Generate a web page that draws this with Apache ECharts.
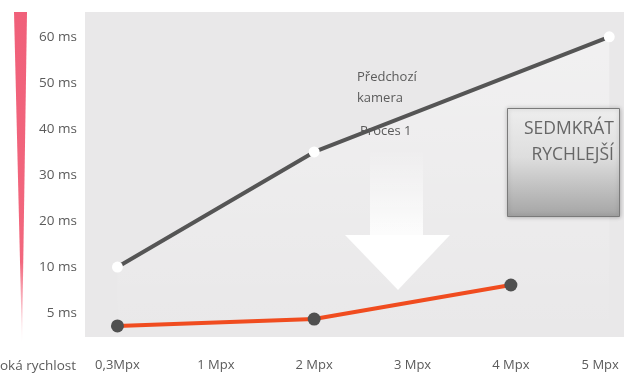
<!DOCTYPE html>
<html>
<head>
<meta charset="utf-8">
<script src="https://cdn.jsdelivr.net/npm/echarts@6/dist/echarts.min.js"></script>
<style>
  html, body { margin: 0; padding: 0; background: #fff; }
  #chart { width: 624px; height: 374px; }
</style>
</head>
<body>
<div id="chart"></div>
<script>
// kategorie na ose x (index = pozice)
var categories = ['0,3Mpx', '1 Mpx', '2 Mpx', '3 Mpx', '4 Mpx', '5 Mpx'];
// popisky osy y (hodnota -> text)
var yTickValues = [0, 10, 20, 30, 40, 50, 60];
var yTickLabels = ['5 ms', '10 ms', '20 ms', '30 ms', '40 ms', '50 ms', '60 ms'];

// predchozi kamera
var oldCamX = [0, 2, 5];
var oldCamMs = [10, 35, 60];
// proces 1
var newCamX = [0, 2, 4];
var newCamMs = [-2.8, -1.3, 6.1];

var font = '"Open Sans", "DejaVu Sans", sans-serif';
var txt = '#5b5b5b';

function pairs(xs, ys) {
  var out = [];
  for (var i = 0; i < xs.length; i++) {
    out.push([xs[i], ys[i]]);
  }
  return out;
}

var chart = echarts.init(document.getElementById('chart'));

var options = {
  backgroundColor: '#fff',
  animation: false,
  grid: {
    left: 85, right: 0, top: 12, bottom: 37,
    outerBoundsMode: 'none',
    containLabel: false,
    show: true,
    backgroundColor: '#e9e8e9',
    borderWidth: 0
  },
  xAxis: {
    type: 'value',
    min: -0.33,
    max: 5.15,
    axisLine: {show: false},
    axisTick: {show: false},
    splitLine: {show: false},
    axisLabel: {
      customValues: [0, 1, 2, 3, 4, 5],
      margin: 22,
      color: txt,
      fontFamily: font,
      fontSize: 13,
      formatter: function (v) {
        var i = Math.round(v);
        // posledni popisek posunout dovnitr obrazku
        return i === categories.length - 1 ? '{last|' + categories[i] + '}' : categories[i];
      },
      rich: {
        last: {padding: [0, 18, 0, 0], color: txt, fontFamily: font, fontSize: 13}
      }
    }
  },
  yAxis: {
    type: 'value',
    min: -5.2,
    max: 65.4,
    axisLine: {show: false},
    axisTick: {show: false},
    splitLine: {show: false},
    axisLabel: {
      customValues: yTickValues,
      margin: 8,
      color: txt,
      fontFamily: font,
      fontSize: 13.5,
      formatter: function (v) { return yTickLabels[yTickValues.indexOf(Math.round(v))]; }
    }
  },
  series: [
    {
      name: 'Předchozí kamera',
      type: 'line',
      data: pairs(oldCamX, oldCamMs),
      symbol: 'circle',
      symbolSize: 11,
      z: 3,
      lineStyle: {color: '#555', width: 4},
      itemStyle: {color: '#fff', borderWidth: 0},
      areaStyle: {
        origin: 'start',
        color: new echarts.graphic.LinearGradient(0, 0, 0, 1, [
          {offset: 0, color: 'rgba(255,255,255,0.55)'},
          {offset: 1, color: 'rgba(255,255,255,0)'}
        ])
      }
    },
    {
      name: 'Proces 1',
      type: 'line',
      data: pairs(newCamX, newCamMs),
      symbol: 'circle',
      symbolSize: 13,
      z: 4,
      lineStyle: {color: '#f04c1f', width: 4},
      itemStyle: {color: '#505050', borderWidth: 0}
    }
  ],
  graphic: [
    // cerveny klin vlevo
    {
      type: 'polygon',
      shape: {points: [[14, 12], [27, 12], [22, 345]]},
      style: {
        fill: new echarts.graphic.LinearGradient(0, 0, 0, 1, [
          {offset: 0, color: '#f0607a'},
          {offset: 0.75, color: '#f2677d'},
          {offset: 1, color: 'rgba(245,120,140,0)'}
        ])
      }
    },
    {
      type: 'text', x: 76, y: 366,
      style: {text: 'Vysoká rychlost', align: 'right', verticalAlign: 'middle', fill: txt, font: '13.5px ' + font}
    },
    // sipka dolu
    {
      type: 'rect', z: 2,
      shape: {x: 370, y: 150, width: 53, height: 86},
      style: {
        fill: new echarts.graphic.LinearGradient(0, 0, 0, 1, [
          {offset: 0, color: 'rgba(255,255,255,0)'},
          {offset: 1, color: 'rgba(255,255,255,0.9)'}
        ])
      }
    },
    {
      type: 'polygon', z: 2,
      shape: {points: [[345, 235], [450, 235], [398, 290]]},
      style: {fill: '#fff'}
    },
    // popisky
    {
      type: 'text', z: 5, x: 357, y: 67,
      style: {text: 'Předchozí\nkamera', lineHeight: 21, fill: txt, font: '13px ' + font}
    },
    {
      type: 'text', z: 5, x: 360, y: 125,
      style: {text: 'Proces 1', fill: txt, font: '13px ' + font}
    },
    // box SEDMKRAT RYCHLEJSI
    {
      type: 'rect', z: 6,
      shape: {x: 507.5, y: 108.5, width: 112, height: 108},
      style: {
        fill: new echarts.graphic.LinearGradient(0, 0, 0, 1, [
          {offset: 0, color: '#eeeeee'},
          {offset: 0.45, color: '#dedede'},
          {offset: 1, color: '#a4a4a4'}
        ]),
        stroke: '#7a7a7a',
        lineWidth: 1,
        shadowBlur: 4,
        shadowColor: 'rgba(0,0,0,0.25)'
      }
    },
    {
      type: 'text', z: 7, x: 614, y: 116,
      style: {text: 'SEDMKRÁT\nRYCHLEJŠÍ', align: 'right', lineHeight: 26, fill: '#666', font: '17.5px ' + font}
    }
  ]
};

chart.setOption(options);
</script>
</body>
</html>
